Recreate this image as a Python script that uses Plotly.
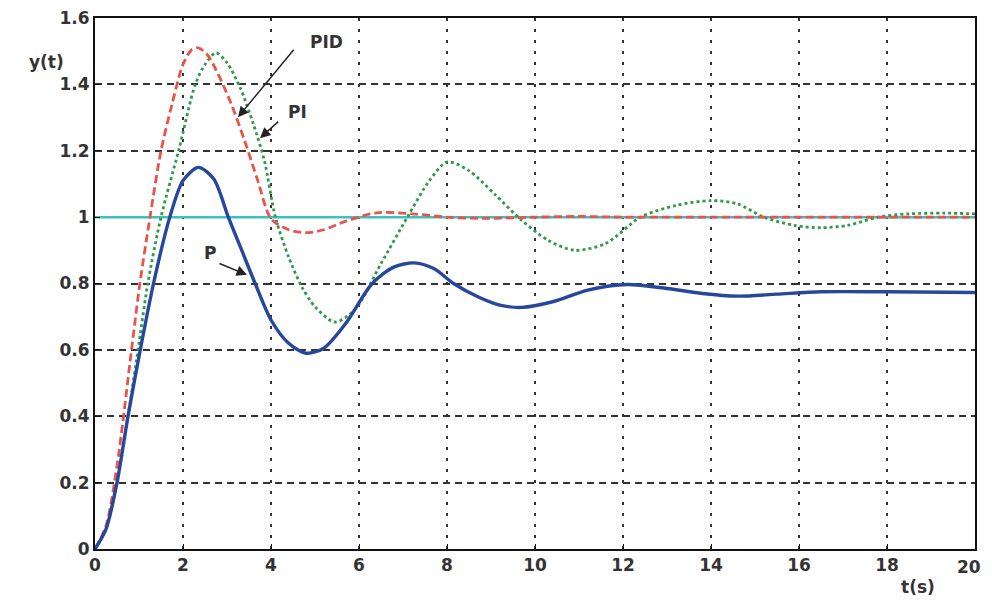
import plotly.graph_objects as go

# ---- data ----
t_p = [0, 0.25, 0.5, 0.75, 1.0, 1.33, 1.7, 2.0, 2.35, 2.7, 3.03, 3.35, 3.64, 4.0, 4.4, 4.8, 5.2, 5.7, 6.3,
       6.8, 7.25, 7.7, 8.15, 8.7, 9.2, 9.7, 10.4, 11.2, 12.1, 13.0, 13.8, 14.6, 15.5, 16.5, 18.0, 20.0]
y_p = [0, 0.06, 0.2, 0.40, 0.58, 0.80, 1.0, 1.11, 1.15, 1.115, 1.0, 0.895, 0.80, 0.69, 0.62, 0.59, 0.605,
       0.68, 0.80, 0.85, 0.862, 0.845, 0.80, 0.76, 0.735, 0.728, 0.745, 0.78, 0.797, 0.785, 0.77, 0.762,
       0.768, 0.775, 0.775, 0.773]

t_pid = [0, 0.25, 0.5, 0.83, 1.02, 1.25, 1.5, 1.75, 2.0, 2.2, 2.35, 2.55, 2.8, 3.1, 3.4, 3.7, 4.0, 4.4, 4.8,
         5.2, 5.7, 6.4, 7.2, 8.0, 8.8, 10.0, 11.0, 12.0, 14.0, 16.0, 18.0, 20.0]
y_pid = [0, 0.07, 0.25, 0.6, 0.8, 1.0, 1.2, 1.34, 1.46, 1.505, 1.51, 1.49, 1.43, 1.34, 1.23, 1.11, 0.995,
         0.962, 0.953, 0.962, 0.988, 1.013, 1.01, 1.0, 0.996, 1.0, 1.002, 1.0, 1.0, 1.0, 1.0, 1.0]

t_pi = [0, 0.25, 0.5, 0.75, 1.0, 1.2, 1.5, 1.9, 2.28, 2.5, 2.75, 3.0, 3.3, 3.6, 3.85, 4.1, 4.4, 4.7, 5.0,
        5.45, 5.9, 6.5, 7.1, 7.6, 8.0, 8.5, 9.1, 9.7, 10.3, 10.9, 11.6, 12.4, 13.2, 14.0, 14.6, 15.2, 15.9,
        16.5, 17.1, 17.8, 18.5, 19.3, 20.0]
y_pi = [0, 0.06, 0.2, 0.40, 0.62, 0.8, 1.0, 1.2, 1.4, 1.46, 1.495, 1.465, 1.39, 1.28, 1.17, 1.0, 0.88, 0.79,
        0.73, 0.684, 0.72, 0.86, 1.0, 1.11, 1.166, 1.14, 1.067, 0.99, 0.93, 0.90, 0.92, 1.0, 1.035, 1.05,
        1.04, 1.0, 0.975, 0.968, 0.975, 1.0, 1.01, 1.012, 1.01]

t_ref = [0, 20]
y_ref = [1, 1]

x_ticks = [0, 2, 4, 6, 8, 10, 12, 14, 16, 18, 20]
x_tick_text = ["0", "2", "4", "6", "8", "10", "12", "14", "16", "18", "20"]
y_ticks = [0, 0.2, 0.4, 0.6, 0.8, 1.0, 1.2, 1.4, 1.6]
y_tick_text = ["0", "0.2", "0.4", "0.6", "0.8", "1", "1.2", "1.4", "1.6"]

fig = go.Figure()
fig.add_trace(go.Scatter(x=t_ref, y=y_ref, mode="lines", line=dict(color="#3cc0c0", width=2.5), name="ref"))
fig.add_trace(go.Scatter(x=t_pi, y=y_pi, mode="lines",
                         line=dict(color="#2f9a47", width=2.8, dash="3px,3px", shape="spline", smoothing=0.8),
                         name="PI"))
fig.add_trace(go.Scatter(x=t_pid, y=y_pid, mode="lines",
                         line=dict(color="#e6544a", width=2.8, dash="8px,4px", shape="spline", smoothing=0.8),
                         name="PID"))
fig.add_trace(go.Scatter(x=t_p, y=y_p, mode="lines",
                         line=dict(color="#26479c", width=3.4, shape="spline", smoothing=0.8), name="P"))

font_tick = dict(family="DejaVu Sans, sans-serif", size=17, color="#333333", weight="bold")

# the last x label is drawn as an annotation anchored at its tick so it does not overflow the page edge
x_tick_text_axis = x_tick_text[:-1] + [""]

fig.update_xaxes(range=[0, 20], tickvals=x_ticks, ticktext=x_tick_text_axis, showgrid=True,
                 gridcolor="#333333", griddash="3px,8px", gridwidth=1.8, showline=True, linecolor="#111111",
                 linewidth=2, mirror=True, ticks="inside", ticklen=5, tickcolor="#111111", tickfont=font_tick,
                 zeroline=False, automargin=False, ticklabeloverflow="allow")
fig.update_yaxes(range=[0, 1.6], tickvals=y_ticks, ticktext=y_tick_text, showgrid=True, gridcolor="#333333",
                 griddash="7px,5px", gridwidth=1.5, showline=True, linecolor="#111111", linewidth=2,
                 mirror=True, ticks="inside", ticklen=5, tickcolor="#111111", tickfont=font_tick,
                 zeroline=False, automargin=False, ticklabeloverflow="allow")

ann_font = dict(family="DejaVu Sans, sans-serif", size=17, color="#333333", weight="bold")
arrow = dict(axref="x", ayref="y", text="", showarrow=True, arrowhead=2, arrowsize=1.4, arrowwidth=1.5,
             arrowcolor="#222222")
annotations = [
    dict(x=5.27, y=1.528, text="PID", showarrow=False, font=ann_font),
    dict(x=4.61, y=1.317, text="PI", showarrow=False, font=ann_font),
    dict(x=2.61, y=0.892, text="P", showarrow=False, font=ann_font),
    dict(x=3.25, y=1.301, ax=4.545, ay=1.509, **arrow),
    dict(x=3.75, y=1.238, ax=4.2, ay=1.292, **arrow),
    dict(x=3.455, y=0.826, ax=2.795, ay=0.862, **arrow),
    dict(x=-0.0773, y=0.94, xref="paper", yref="paper", text="y(t)", showarrow=False, font=ann_font),
    dict(x=0.957, y=-0.094, xref="paper", yref="paper", text="t(s)", showarrow=False, font=ann_font),
    dict(x=x_ticks[-1], y=0, xref="x", yref="paper", text=x_tick_text[-1], showarrow=False, font=ann_font,
         xanchor="right", yanchor="top", xshift=8, yshift=-6),
]

fig.update_layout(width=976, height=596, margin=dict(l=87, r=9, t=10, b=55),
                  paper_bgcolor="white", plot_bgcolor="white", showlegend=False,
                  annotations=annotations)

fig.write_html("out.html")
